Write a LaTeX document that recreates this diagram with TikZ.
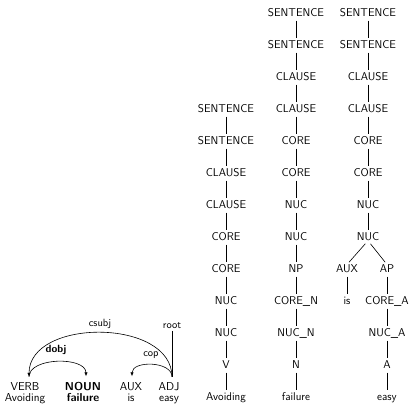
\documentclass[tikz,border=0pt]{standalone}
\usepackage{fontspec}
\usetikzlibrary{arrows.meta,calc}

\tikzset{
  cat/.style={font=\sffamily\fontsize{11.3}{13}\selectfont, inner sep=0pt,
              text height=7.8pt, text depth=0pt, anchor=base},
  branch/.style={line width=0.6pt, shorten <=4pt, shorten >=3pt},
  tok/.style={font=\sffamily\fontsize{11.5}{13}\selectfont, inner sep=0pt,
              text height=7.9pt, text depth=0pt, anchor=base},
  deplabel/.style={font=\sffamily\fontsize{10.5}{12}\selectfont, inner sep=0pt},
  arc/.style={line width=0.6pt},
  arrowarc/.style={line width=0.6pt, -{Latex[length=4pt,width=3.2pt]}},
}

\begin{document}
\begin{tikzpicture}[x=1pt, y=-1pt]
\useasboundingbox (0,0) rectangle (410,408);

% ---- tree for "Avoiding"
\foreach \t [count=\i from 0] in
  {SENTENCE,SENTENCE,CLAUSE,CLAUSE,CORE,CORE,NUC,NUC,V,Avoiding}
  \node[cat] (a\i) at (226, 112.5+32*\i) {\t};
\foreach \i [evaluate=\i as \j using int(\i+1)] in {0,...,8}
  \draw[branch] (a\i.south) -- (a\j.north);

% ---- tree for "failure"
\foreach \t [count=\i from 0] in
  {SENTENCE,SENTENCE,CLAUSE,CLAUSE,CORE,CORE,NUC,NUC,NP,CORE\_N,NUC\_N,N,failure}
  \node[cat] (b\i) at (296, 16.5+32*\i) {\t};
\foreach \i [evaluate=\i as \j using int(\i+1)] in {0,...,11}
  \draw[branch] (b\i.south) -- (b\j.north);

% ---- tree for "is easy"
\foreach \t [count=\i from 0] in
  {SENTENCE,SENTENCE,CLAUSE,CLAUSE,CORE,CORE,NUC,NUC}
  \node[cat] (c\i) at (368, 16.5+32*\i) {\t};
\foreach \i [evaluate=\i as \j using int(\i+1)] in {0,...,6}
  \draw[branch] (c\i.south) -- (c\j.north);
\node[cat] (aux) at (347, 16.5+32*8) {AUX};
\node[cat] (ap)  at (387, 16.5+32*8) {AP};
\node[cat] (is)  at (347, 16.5+32*9) {is};
\foreach \t [count=\i from 9] in {CORE\_A,NUC\_A,A,easy}
  \node[cat] (d\i) at (387, 16.5+32*\i) {\t};
\draw[branch] (c7.south) -- (aux.north);
\draw[branch] (c7.south) -- (ap.north);
\draw[branch] (aux.south) -- (is.north);
\draw[branch] (ap.south) -- (d9.north);
\foreach \i [evaluate=\i as \j using int(\i+1)] in {9,10,11}
  \draw[branch] (d\i.south) -- (d\j.north);

% ---- dependency graph
\node[tok] (verb) at (25, 390.5) {VERB};
\node[tok] (noun) at (83, 390.5) {\bfseries NOUN};
\node[tok] (auxp) at (131, 390.5) {AUX};
\node[tok] (adj)  at (169, 390.5) {ADJ};
\node[tok] (w1) at (25, 401.5) {Avoiding};
\node[tok] (w2) at (83, 401.5) {\bfseries failure};
\node[tok] (w3) at (131, 401.5) {is};
\node[tok] (w4) at (169, 401.5) {easy};

\coordinate (pv) at ($(verb.north)+(4pt,5.5pt)$);
\coordinate (pn) at ($(noun.north)+(3pt,6pt)$);
\coordinate (pa) at ($(auxp.north)+(1pt,6pt)$);
\coordinate (pj) at ($(adj.north)+(3pt,5.5pt)$);
\coordinate (rt) at ($(pj)+(0pt,46pt)$);

\draw[arrowarc] (pv) .. controls ($(pv)+(0pt,20pt)$) and ($(pn)+(0pt,20pt)$) .. (pn);
\draw[arrowarc] (pj) .. controls ($(pj)+(0pt,59pt)$) and ($(pv)+(0pt,59pt)$) .. (pv);
\draw[arrowarc] (pj) .. controls ($(pj)+(0pt,16pt)$) and ($(pa)+(0pt,16pt)$) .. (pa);
\draw[arc] (rt) -- (pj);

\node[deplabel, font=\sffamily\bfseries\fontsize{10.5}{12}\selectfont] (ldobj) at (56, 350) {dobj};
\node[deplabel] (lcsubj) at (100, 324) {csubj};
\node[deplabel] (lcop) at (151, 355) {cop};
\node[deplabel, anchor=south] (lroot) at ($(rt)+(0pt,2pt)$) {root};
\end{tikzpicture}
\end{document}
